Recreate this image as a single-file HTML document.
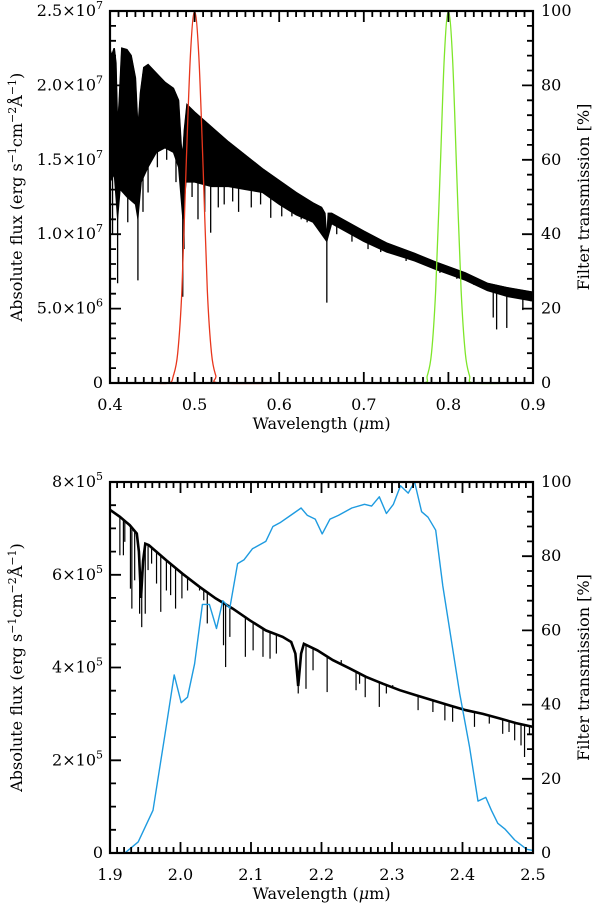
<!DOCTYPE html>
<html><head><meta charset="utf-8">
<style>
html,body{margin:0;padding:0;background:#fff;}
svg{display:block;font-family:"DejaVu Serif","Liberation Serif",serif;}
text{font-size:16px;fill:#000;}
</style></head>
<body>
<svg id="chart" width="600" height="909" viewBox="0 0 600 909" xmlns="http://www.w3.org/2000/svg"></svg>
<script>
// ---------- Top panel data (flux in 1e7 erg/s/cm2/A, wavelength in um) ----------
const topUpperWl   = [0.400,0.402,0.405,0.407,0.409,0.411,0.414,0.420,0.425,0.430,0.433,0.436,0.440,0.445,0.455,0.465,0.475,0.481,0.484,0.486,0.488,0.491,0.500,0.520,0.540,0.560,0.580,0.600,0.620,0.640,0.650,0.654,0.6563,0.658,0.662,0.700,0.727,0.760,0.786,0.820,0.846,0.870,0.900];
const topUpperFlux = [2.24,2.20,2.25,2.15,1.70,1.90,2.25,2.24,2.20,2.05,1.70,1.95,2.12,2.14,2.08,2.02,1.98,1.90,1.60,1.52,1.70,1.87,1.82,1.72,1.62,1.53,1.44,1.36,1.28,1.21,1.18,1.14,0.95,1.14,1.14,1.02,0.94,0.87,0.81,0.74,0.67,0.64,0.61];
const topLowerWl   = [0.400,0.405,0.409,0.412,0.420,0.430,0.433,0.437,0.445,0.455,0.465,0.475,0.481,0.486,0.490,0.500,0.520,0.540,0.560,0.580,0.600,0.620,0.640,0.6563,0.662,0.700,0.727,0.760,0.786,0.820,0.846,0.870,0.900];
const topLowerFlux = [1.35,1.40,1.10,1.30,1.25,1.20,1.10,1.35,1.45,1.55,1.58,1.55,1.45,1.10,1.35,1.35,1.32,1.32,1.30,1.28,1.20,1.13,1.08,0.95,1.07,0.95,0.88,0.82,0.76,0.69,0.62,0.58,0.55];
const topLineWl    = [0.403,0.409,0.421,0.433,0.439,0.445,0.456,0.467,0.478,0.486,0.4875,0.497,0.504,0.512,0.519,0.528,0.535,0.545,0.552,0.567,0.578,0.590,0.603,0.615,0.626,0.633,0.6563,0.668,0.686,0.705,0.720,0.750,0.770,0.790,0.810,0.830,0.853,0.857,0.869,0.888,0.897];
const topLineMin   = [1.00,0.67,1.08,0.69,1.15,1.28,1.45,1.50,1.35,0.58,0.90,1.25,1.10,1.15,1.01,1.18,1.20,1.22,1.15,1.18,1.20,1.11,1.12,1.12,1.10,1.08,0.54,1.00,0.95,0.90,0.88,0.82,0.80,0.74,0.70,0.66,0.44,0.36,0.37,0.49,0.55];
const redWl   = [0.45,0.47,0.475,0.48,0.485,0.49,0.495,0.50,0.505,0.51,0.515,0.52,0.525,0.53,0.61];
const redT    = [0,0,2,8,25,58,88,100,88,58,25,8,2,0,0];
const greenWl = [0.72,0.77,0.775,0.78,0.785,0.79,0.795,0.80,0.805,0.81,0.815,0.82,0.825,0.83,0.88];
const greenT  = [0,0,2,8,25,55,87,100,87,55,25,8,2,0,0];
const topXTicks = [0.4,0.5,0.6,0.7,0.8,0.9];
const topXLabels = ["0.4","0.5","0.6","0.7","0.8","0.9"];
const topYTicks = [0,0.5,1.0,1.5,2.0,2.5];
const topYMant = ["0","5.0","1.0","1.5","2.0","2.5"];
const topYExp  = ["","6","7","7","7","7"];
// ---------- Bottom panel data (flux in 1e5) ----------
const botContWl   = [1.900,1.914,1.928,1.938,1.941,1.944,1.947,1.950,1.955,1.980,2.003,2.027,2.050,2.074,2.098,2.121,2.145,2.157,2.163,2.167,2.171,2.175,2.194,2.216,2.240,2.263,2.287,2.311,2.334,2.358,2.382,2.405,2.429,2.453,2.476,2.500];
const botContFlux = [7.40,7.25,7.07,6.89,6.50,5.50,6.30,6.67,6.64,6.31,6.02,5.74,5.49,5.27,5.02,4.80,4.66,4.55,4.30,3.60,4.30,4.51,4.37,4.16,3.98,3.80,3.65,3.51,3.40,3.29,3.18,3.08,3.00,2.90,2.80,2.72];
const botLineWl  = [1.914,1.919,1.921,1.929,1.931,1.935,1.942,1.945,1.950,1.954,1.959,1.966,1.972,1.980,1.986,1.993,2.002,2.010,2.027,2.033,2.038,2.049,2.061,2.064,2.070,2.092,2.103,2.117,2.127,2.136,2.167,2.178,2.188,2.208,2.228,2.249,2.254,2.262,2.273,2.282,2.292,2.301,2.315,2.337,2.358,2.375,2.386,2.400,2.417,2.438,2.457,2.466,2.474,2.483,2.488,2.495];
const botLineMin = [6.42,6.42,6.71,5.70,5.27,5.88,5.16,4.87,5.16,6.10,6.24,5.81,5.20,5.66,5.56,5.27,5.49,5.66,5.66,5.45,4.95,5.52,4.48,4.01,4.66,4.23,4.37,4.23,4.19,4.30,3.44,3.54,3.94,3.47,4.16,3.51,3.65,3.36,3.72,3.15,3.44,3.62,3.51,3.08,3.04,2.86,2.83,3.15,2.72,2.79,2.57,2.61,2.43,2.32,2.07,2.57];
const blueWl = [1.900,1.921,1.940,1.961,1.978,1.991,2.001,2.010,2.020,2.031,2.041,2.051,2.060,2.070,2.081,2.090,2.102,2.121,2.131,2.141,2.160,2.171,2.180,2.191,2.201,2.212,2.224,2.243,2.261,2.271,2.282,2.292,2.302,2.312,2.323,2.332,2.342,2.351,2.362,2.372,2.382,2.396,2.410,2.422,2.433,2.441,2.450,2.460,2.474,2.491,2.500];
const blueT  = [0,0,3,11.5,32,48,40.5,42,51,67,67,60.5,68,66,78,79,82,84,88,89,91.5,93,91,90,86,90,91,93,94,93.5,96,91.5,94,99,97,100,92,90.5,87,72,60,43,28.5,14,15,11.5,8,6.5,3.5,1,0.7];
const botXTicks = [1.9,2.0,2.1,2.2,2.3,2.4,2.5];
const botXLabels = ["1.9","2.0","2.1","2.2","2.3","2.4","2.5"];
const botYTicks = [0,2,4,6,8];
const botYMant = ["0","2","4","6","8"];
const rightTicks = [0,20,40,60,80,100];

const NS="http://www.w3.org/2000/svg";
const svg=document.getElementById('chart');
function el(tag,attrs,parent){const e=document.createElementNS(NS,tag);for(const k in attrs)e.setAttribute(k,attrs[k]);(parent||svg).appendChild(e);return e;}

const panels=[
 {x0:110,x1:533,y0:11,y1:383,wmin:0.4,wmax:0.9,fmax:2.5,name:'top'},
 {x0:110,x1:533,y0:482,y1:853,wmin:1.9,wmax:2.5,fmax:8,name:'bottom'}
];
function sx(p,w){return p.x0+(w-p.wmin)/(p.wmax-p.wmin)*(p.x1-p.x0);}
function sy(p,f){return p.y1-f/p.fmax*(p.y1-p.y0);}
function st(p,t){return p.y1-t/100*(p.y1-p.y0);}
function interp(xs,ys,x){for(let i=0;i<xs.length-1;i++){if(x>=xs[i]&&x<=xs[i+1]){const t=(x-xs[i])/(xs[i+1]-xs[i]);return ys[i]+t*(ys[i+1]-ys[i]);}}return ys[ys.length-1];}
function smoothPath(pts){
 let d='M'+pts[0][0].toFixed(1)+','+pts[0][1].toFixed(1);
 for(let i=0;i<pts.length-1;i++){
  const p0=pts[i-1]||pts[i],p1=pts[i],p2=pts[i+1],p3=pts[i+2]||p2;
  const c1=[p1[0]+(p2[0]-p0[0])/6,p1[1]+(p2[1]-p0[1])/6];
  const c2=[p2[0]-(p3[0]-p1[0])/6,p2[1]-(p3[1]-p1[1])/6];
  d+=`C${c1[0].toFixed(1)},${c1[1].toFixed(1)} ${c2[0].toFixed(1)},${c2[1].toFixed(1)} ${p2[0].toFixed(1)},${p2[1].toFixed(1)}`;
 }
 return d;
}

// ---- top panel ----
(function(){
 const p=panels[0];
 const g=el('g',{});
 
 
 let pts=[];
 topUpperWl.forEach((w,i)=>pts.push(sx(p,w).toFixed(1)+','+sy(p,topUpperFlux[i]).toFixed(1)));
 for(let i=topLowerWl.length-1;i>=0;i--)pts.push(sx(p,topLowerWl[i]).toFixed(1)+','+sy(p,topLowerFlux[i]).toFixed(1));
 const band=el('polygon',{points:pts.join(' '),fill:'#000',stroke:'#000','stroke-width':1},g);
 
 
 const up=el('polyline',{points:topUpperWl.map((w,i)=>sx(p,w).toFixed(1)+','+sy(p,topUpperFlux[i]).toFixed(1)).join(' '),fill:'none',stroke:'#000','stroke-width':1.5},g);
 
 
 topLineWl.forEach((w,i)=>{
  const x=sx(p,w);
  const l=el('line',{x1:x,x2:x,y1:sy(p,interp(topUpperWl,topUpperFlux,w)),y2:sy(p,topLineMin[i]),stroke:'#000','stroke-width':1.3},g);
  
  
 });
 const r=el('path',{d:smoothPath(redWl.map((w,i)=>[sx(p,w),st(p,redT[i])])),fill:'none',stroke:'#e8361c','stroke-width':1.3},g);
 
 
 const gr=el('path',{d:smoothPath(greenWl.map((w,i)=>[sx(p,w),st(p,greenT[i])])),fill:'none',stroke:'#7ee62a','stroke-width':1.3},g);
 
 
})();

// ---- bottom panel ----
(function(){
 const p=panels[1];
 const g=el('g',{});
 
 
 botLineWl.forEach((w,i)=>{
  const x=sx(p,w);
  const l=el('line',{x1:x,x2:x,y1:sy(p,interp(botContWl,botContFlux,w)),y2:sy(p,botLineMin[i]),stroke:'#000','stroke-width':1.2},g);
  
  
 });
 const c=el('polyline',{points:botContWl.map((w,i)=>sx(p,w).toFixed(1)+','+sy(p,botContFlux[i]).toFixed(1)).join(' '),fill:'none',stroke:'#000','stroke-width':2.6},g);
 
 
 const b=el('polyline',{points:blueWl.map((w,i)=>sx(p,w).toFixed(1)+','+st(p,blueT[i]).toFixed(1)).join(' '),fill:'none',stroke:'#1e9be0','stroke-width':1.4,'stroke-linejoin':'round'},g);
 
 
})();

// ---- axes ----
function axes(p,xt,xl,yt,ymant,yexp,ystep,xminor,yminor,tminor){
 const g=el('g',{});
 
 
 const fr=el('rect',{x:p.x0,y:p.y0,width:p.x1-p.x0,height:p.y1-p.y0,fill:'none',stroke:'#000','stroke-width':2.2},g);
 
 
 let d='';
 for(let w=p.wmin;w<=p.wmax+1e-9;w+=xminor){
  const x=sx(p,w);const maj=xt.some(v=>Math.abs(v-w)<1e-6);const L=maj?11:6;
  d+=`M${x.toFixed(1)},${p.y1}v${-L}M${x.toFixed(1)},${p.y0}v${L}`;
 }
 for(let f=0;f<=p.fmax+1e-9;f+=yminor){
  const y=sy(p,f);const maj=yt.some(v=>Math.abs(v-f)<1e-6);const L=maj?11:6;
  d+=`M${p.x0},${y.toFixed(1)}h${L}`;
 }
 for(let t=0;t<=100+1e-9;t+=tminor){
  const y=st(p,t);const maj=Math.abs(t%20)<1e-6||Math.abs(t%20-20)<1e-6;const L=maj?11:6;
  d+=`M${p.x1},${y.toFixed(1)}h${-L}`;
 }
 el('path',{d:d,stroke:'#000','stroke-width':1.8,fill:'none'},g);
 xt.forEach((w,i)=>{
  const t=el('text',{x:sx(p,w),y:p.y1+27,'text-anchor':'middle'},g);t.textContent=xl[i];
  
  
 });
 yt.forEach((f,i)=>{
  const y=sy(p,f)+5;
  const t=el('text',{x:p.x0-7,y:y,'text-anchor':'end'},g);
  
  
  if(ymant[i]==='0'){t.textContent='0';}
  else{
   const a=el('tspan',{},t);a.textContent=ymant[i]+'×10';
   const e=el('tspan',{dy:-7,'font-size':'11px'},t);e.textContent=yexp[i];
  }
 });
 rightTicks.forEach(v=>{
  const t=el('text',{x:p.x1+8,y:st(p,v)+5},g);t.textContent=String(v);
  
  
 });
 const xt2=el('text',{x:(p.x0+p.x1)/2,y:p.y1+46,'text-anchor':'middle'},g);
 
 
 const a1=el('tspan',{},xt2);a1.textContent='Wavelength (';
 const a2=el('tspan',{'font-style':'italic'},xt2);a2.textContent='μ';
 const a3=el('tspan',{},xt2);a3.textContent='m)';
 const cy=(p.y0+p.y1)/2;
 const yl=el('text',{x:0,y:0,'text-anchor':'middle',transform:`translate(22,${cy}) rotate(-90)`},g);
 
 
 const parts=[['Absolute flux (erg s',0,16],['−1',-6,11],['cm',6,16],['−2',-6,11],['Å',6,16],['−1',-6,11],[')',6,16]];
 parts.forEach(q=>{const s=el('tspan',{dy:q[1],'font-size':q[2]+'px'},yl);s.textContent=q[0];});
 const yr=el('text',{x:0,y:0,'text-anchor':'middle',transform:`translate(589,${cy}) rotate(-90)`},g);
 
 
 yr.textContent='Filter transmission [%]';
}
axes(panels[0],topXTicks,topXLabels,topYTicks,topYMant,topYExp,0.5,0.01,0.1,4);
axes(panels[1],botXTicks,botXLabels,botYTicks,botYMant,["","5","5","5","5"],2,0.01,0.5,4);
</script>
</body></html>
